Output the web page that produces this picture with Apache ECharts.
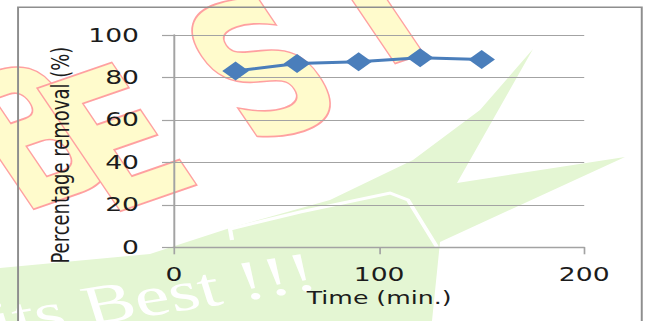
<!DOCTYPE html>
<html>
<head>
<meta charset="utf-8">
<script src="https://cdn.jsdelivr.net/npm/echarts@6/dist/echarts.min.js"></script>
<style>
  html, body { margin: 0; padding: 0; background: #fff; overflow: hidden; }
  /* the chart is laid out narrow and widened horizontally */
  #chart { width: 463px; height: 321px; transform: scaleX(1.4); transform-origin: 0 0; }
</style>
</head>
<body>
<div id="chart"></div>
<script>
// Removal over contact time
const timeMin = [30, 60, 90, 120, 150];
const removalPct = [83.0, 86.6, 87.4, 89.3, 88.5];
const xTicks = [0, 100, 200];
const yTicks = [0, 20, 40, 60, 80, 100];
const xTitle = 'Time (min.)';
const yTitle = 'Percentage removal (%)';

const gray = '#a3a3a3';
const textColor = '#1c1c1c';
const font = 'DejaVu Sans';

// background mark: green swoosh, white sweep, letters and slogan
const swoosh = [[0,268],[150,254],[230,228],[330,200],[413,160],[480,110],[533,49],
  [457,183],[625,157],[440,242],[432,321],[0,321]].map(p => [p[0] / 1.4, p[1]]);
const sweep = [[232,240],[230,229],[300,212],[390,193],[408,200],[437,247]].map(p => [p[0] / 1.4, p[1]]);
const letters = [
  { ch: 'B', x: 26, y: 136 },
  { ch: 'E', x: 84, y: 140 },
  { ch: 'S', x: 188, y: 70 },
  { ch: 'T', x: 264, y: 0 }
];

const graphics = [
  { type: 'polygon', z: -20, silent: true, shape: { points: swoosh }, style: { fill: '#e4f6d3' } },
  { type: 'polyline', z: -19, silent: true, shape: { points: sweep }, style: { stroke: '#fff', lineWidth: 3, fill: null } },
  { type: 'text', z: -18, silent: true, x: 0, y: 349, rotation: 0.22,
    style: { text: 'its Best !!!', fill: '#fff', font: '56px "Liberation Serif"',
             align: 'left', verticalAlign: 'bottom', textAlign: 'left', textVerticalAlign: 'bottom' } }
];
letters.forEach(l => graphics.push({
  type: 'text', z: -17, silent: true, x: l.x, y: l.y, rotation: 0.45, scaleX: 0.62,
  style: { text: l.ch, fill: '#fffbcc', stroke: '#ffa0a0', lineWidth: 3.5,
           font: 'bold 185px "DejaVu Sans"', align: 'center', verticalAlign: 'middle',
           textAlign: 'center', textVerticalAlign: 'middle' }
}));
// chart area frame
graphics.push({ type: 'rect', z: 50, silent: true, shape: { x: 12.9, y: 7.3, width: 445.5, height: 330 },
  style: { fill: 'transparent', stroke: '#8e8e8e', lineWidth: 1.4 } });

const chart = echarts.init(document.getElementById('chart'), null, { renderer: 'svg' });
chart.setOption({
  backgroundColor: '#fff',
  animation: false,
  graphic: graphics,
  grid: { left: 124.3, right: 45.7, top: 35, bottom: 73.7, containLabel: false },
  xAxis: {
    type: 'value',
    min: xTicks[0], max: xTicks[xTicks.length - 1], interval: xTicks[1] - xTicks[0],
    name: xTitle, nameLocation: 'middle', nameGap: 36,
    nameTextStyle: { fontFamily: font, fontSize: 18, color: textColor },
    axisLine: { show: true, lineStyle: { color: gray, width: 1.4 } },
    axisTick: { show: true, inside: false, length: 7, lineStyle: { color: gray, width: 1.2 } },
    axisLabel: { fontFamily: font, fontSize: 19, color: textColor, margin: 18 },
    splitLine: { show: false }
  },
  yAxis: {
    type: 'value',
    min: yTicks[0], max: yTicks[yTicks.length - 1], interval: yTicks[1] - yTicks[0],
    name: yTitle, nameLocation: 'middle', nameGap: 72,
    nameTextStyle: { fontFamily: font, fontSize: 18, color: textColor, padding: [0, 28, 0, 0] },
    axisLine: { show: true, lineStyle: { color: gray, width: 1.4 } },
    axisTick: { show: true, inside: false, length: 8.6, lineStyle: { color: gray, width: 1.2 } },
    axisLabel: { fontFamily: font, fontSize: 19, color: textColor, margin: 25 },
    splitLine: { show: true, lineStyle: { color: gray, width: 1.2 } }
  },
  series: [{
    type: 'line',
    data: timeMin.map((t, i) => [t, removalPct[i]]),
    symbol: 'diamond',
    symbolSize: [19, 19],
    lineStyle: { color: '#4a7ebb', width: 3 },
    itemStyle: { color: '#4a7ebb' },
    z: 5
  }]
});
</script>
</body>
</html>
